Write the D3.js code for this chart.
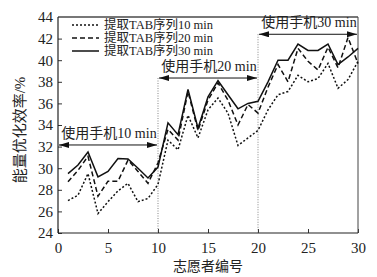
<!DOCTYPE html>
<html>
<head>
<meta charset="utf-8">
<script src="https://cdn.jsdelivr.net/npm/d3@7"></script>
<style>
body{margin:0;background:#fff;}
svg text{font-family:"Liberation Serif","Noto Sans CJK SC",serif;fill:#222;}
</style>
</head>
<body>
<svg id="chart" width="377" height="277"></svg>
<script>
// volunteer ids and the three series (energy optimisation efficiency, %)
var volunteers=d3.range(1,31);
var seq10=[27.0,27.5,29.5,25.8,26.9,27.9,28.6,26.9,27.2,28.5,
	32.6,31.7,34.9,32.8,35.4,36.5,35.1,32.1,32.8,33.5,
	35.4,36.8,37.1,38.6,38.0,38.3,39.7,37.4,38.2,39.9];
var seq20=[28.75,29.8,31.1,27.4,28.8,28.8,30.75,29.7,28.6,30.5,
	33.6,32.6,37.1,33.5,36.3,37.9,36.3,34.0,35.9,35.1,
	37.5,39.6,38.0,41.1,39.9,39.1,41.2,39.3,42.1,39.7];
var seq30=[29.5,30.3,31.5,29.2,29.7,30.9,30.85,30.0,29.1,30.1,
	34.2,33.1,37.3,33.7,36.6,38.1,36.8,35.5,36.0,36.2,
	38.0,40.0,40.0,41.5,40.9,40.9,41.5,39.6,40.3,41.1];
var seriesNames=["提取TAB序列10 min","提取TAB序列20 min","提取TAB序列30 min"];
var xTicks=[0,5,10,15,20,25,30];
var yTicks=[24,26,28,30,32,34,36,38,40,42,44];
// phone-use phases: x range and arrow level
var phaseFrom=[0,10,20];
var phaseTo=[10,20,30];
var phaseLevel=[32.15,38.35,42.4];
var phaseLabels=["使用手机10 min","使用手机20 min","使用手机30 min"];

var svg=d3.select("#chart");
var mLeft=58,mRight=358,mTop=17,mBottom=233;

var x=d3.scaleLinear().domain([0,30]).range([mLeft,mRight]);
var y=d3.scaleLinear().domain([24,44]).range([mBottom,mTop]);

var defs=svg.append("defs");
defs.append("marker").attr("id","arrEnd")
	.attr("viewBox","0 0 10 6").attr("refX",10).attr("refY",3)
	.attr("markerWidth",10).attr("markerHeight",6).attr("markerUnits","userSpaceOnUse")
	.attr("orient","auto")
	.append("path").attr("d","M0,0L10,3L0,6Z").attr("fill","#111");
defs.append("marker").attr("id","arrStart")
	.attr("viewBox","0 0 10 6").attr("refX",0).attr("refY",3)
	.attr("markerWidth",10).attr("markerHeight",6).attr("markerUnits","userSpaceOnUse")
	.attr("orient","auto")
	.append("path").attr("d","M10,0L0,3L10,6Z").attr("fill","#111");

//axes, ticks pointing inward
svg.append("g").attr("transform","translate(0,"+mBottom+")")
	.call(d3.axisBottom(x).tickValues(xTicks).tickSizeInner(-4).tickSizeOuter(0).tickPadding(6))
	.call(function(g){g.select(".domain").remove();})
	.selectAll("text").style("font-size","15px").attr("dy","0.9em");
svg.append("g").attr("transform","translate("+mLeft+",0)")
	.call(d3.axisLeft(y).tickValues(yTicks).tickSizeInner(-4).tickSizeOuter(0).tickPadding(5))
	.call(function(g){g.select(".domain").remove();})
	.selectAll("text").style("font-size","15px");
svg.selectAll(".tick line").attr("stroke","#333");

//frame
svg.append("line").attr("x1",mLeft).attr("x2",mRight).attr("y1",mTop).attr("y2",mTop)
	.attr("stroke","#777").attr("stroke-width",2);
svg.append("line").attr("x1",mRight).attr("x2",mRight).attr("y1",mTop).attr("y2",mBottom)
	.attr("stroke","#444").attr("stroke-width",1);
svg.append("line").attr("x1",mLeft).attr("x2",mLeft).attr("y1",mTop).attr("y2",mBottom)
	.attr("stroke","#222").attr("stroke-width",1.2);
svg.append("line").attr("x1",mLeft).attr("x2",mRight).attr("y1",mBottom).attr("y2",mBottom)
	.attr("stroke","#222").attr("stroke-width",1.2);

//phase separators
[1,2].forEach(function(i){
	svg.append("line")
		.attr("x1",x(phaseFrom[i])).attr("x2",x(phaseFrom[i]))
		.attr("y1",y(phaseLevel[i])).attr("y2",mBottom)
		.attr("stroke","#666").attr("stroke-width",0.8).attr("stroke-dasharray","1,1.5");
});

//phase arrows and labels
phaseLabels.forEach(function(lab,i){
	svg.append("line")
		.attr("x1",x(phaseFrom[i])+1).attr("x2",x(phaseTo[i])-1)
		.attr("y1",y(phaseLevel[i])).attr("y2",y(phaseLevel[i]))
		.attr("stroke","#111").attr("stroke-width",1)
		.attr("marker-start","url(#arrStart)").attr("marker-end","url(#arrEnd)");
	svg.append("text")
		.attr("x",(x(phaseFrom[i])+x(phaseTo[i]))/2+1)
		.attr("y",y(phaseLevel[i])-7)
		.attr("text-anchor","middle")
		.style("font-size","14px")
		.text(lab);
});

//series
var series=[seq10,seq20,seq30];
var dashes=["2,2","5,3",null];
var line=d3.line().x(function(d,i){return x(volunteers[i]);}).y(function(d){return y(d);});
series.forEach(function(s,i){
	svg.append("path").datum(s)
		.attr("d",line)
		.attr("fill","none")
		.attr("stroke","#111")
		.attr("stroke-width",1.5)
		.attr("stroke-dasharray",dashes[i]);
});

//legend
var legend=svg.append("g");
seriesNames.forEach(function(name,i){
	var ly=25+i*13;
	legend.append("line").attr("x1",72).attr("x2",99).attr("y1",ly).attr("y2",ly)
		.attr("stroke","#111").attr("stroke-width",1.5).attr("stroke-dasharray",dashes[i]);
	legend.append("text").attr("x",104).attr("y",ly).attr("dy","0.35em")
		.style("font-size","12.5px").text(name);
});

//axis titles
svg.append("text").attr("x",(mLeft+mRight)/2).attr("y",271)
	.attr("text-anchor","middle").style("font-size","14px").text("志愿者编号");
svg.append("text").attr("transform","translate(25,"+((mTop+mBottom)/2+5)+") rotate(-90)")
	.attr("text-anchor","middle").style("font-size","15px").text("能量优化效率/%");
</script>
</body>
</html>
